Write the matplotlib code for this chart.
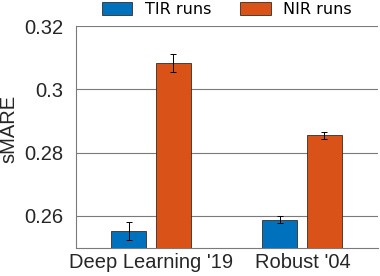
import numpy as np
import matplotlib.pyplot as plt

groups = ["Deep Learning '19", "Robust '04"]
series = ['TIR runs', 'NIR runs']
tir_vals = [0.2552, 0.2587]
tir_err = [0.0028, 0.0011]
nir_vals = [0.3082, 0.2854]
nir_err = [0.0028, 0.0012]
colors = ['#0072BD', '#D95319']

plt.rcParams['font.family'] = ['Liberation Sans', 'DejaVu Sans']

fig = plt.figure(figsize=(3.8, 2.76), dpi=100)
ax = fig.add_axes([76 / 380, 1 - 247.5 / 276, 302 / 380, (247.5 - 26) / 276])

x = np.arange(1, len(groups) + 1)
w = 0.235
ax.bar(x - 0.152, tir_vals, w, yerr=tir_err, color=colors[0], edgecolor='#3a2a20',
       linewidth=0.6, capsize=2.5, error_kw=dict(elinewidth=0.7, capthick=0.7, ecolor='black'),
       label=series[0], zorder=3)
ax.bar(x + 0.145, nir_vals, w, yerr=nir_err, color=colors[1], edgecolor='#3a2a20',
       linewidth=0.6, capsize=2.5, error_kw=dict(elinewidth=0.7, capthick=0.7, ecolor='black'),
       label=series[1], zorder=3)

ax.set_xlim(0.5, 2.5)
ax.set_ylim(0.25, 0.32)
ax.set_yticks([0.26, 0.28, 0.3, 0.32])
ax.set_yticklabels(['0.26', '0.28', '0.3', '0.32'])
ax.set_xticks(x)
ax.set_xticklabels(groups)
ax.tick_params(length=0, labelsize=14.5, colors='#262626')
ax.tick_params(axis='y', pad=9)
ax.tick_params(axis='x', pad=4)
ax.yaxis.grid(True, color='#7a7a7a', linewidth=0.8, zorder=0)
ax.set_axisbelow(True)
for s in ['top', 'right']:
    ax.spines[s].set_visible(False)
for s in ['left', 'bottom']:
    ax.spines[s].set_color('#7a7a7a')
    ax.spines[s].set_linewidth(0.8)
ax.set_ylabel('sMARE', fontsize=14.5, color='#262626', va='center')
ax.yaxis.set_label_coords(-0.222, 0.535)

fig.legend(loc='upper left', bbox_to_anchor=(102 / 380, 1 - 2 / 276), ncol=2, frameon=False,
           prop={'family': 'DejaVu Sans', 'size': 11.5}, handlelength=1.9, handleheight=0.9,
           columnspacing=1.8, handletextpad=0.8, borderpad=0, borderaxespad=0)

fig.savefig('out.png', dpi=100)
